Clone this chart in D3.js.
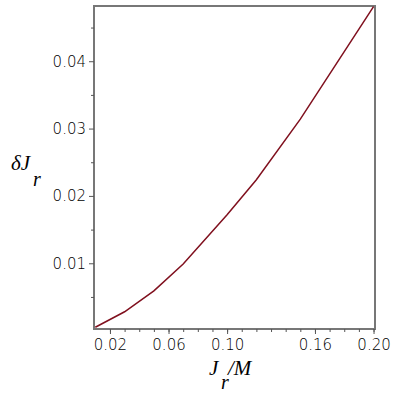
<!DOCTYPE html>
<html>
<head>
<meta charset="utf-8">
<script src="https://cdn.jsdelivr.net/npm/d3@7"></script>
<style>
  body { margin: 0; background: #fff; }
  .tick text { font-family: "DejaVu Sans", sans-serif; font-size: 15px; font-weight: 200; }
</style>
</head>
<body>
<svg id="chart" width="400" height="400"></svg>
<script>
// data
var jr = [0.01, 0.03, 0.05, 0.07, 0.10, 0.12, 0.15, 0.20];
var dj = [0.0005, 0.0028, 0.0059, 0.0099, 0.0172, 0.0224, 0.0314, 0.0481];
var xMinor = d3.range(2, 21).map(function(i) { return i / 100; });
var xLabels = [0.02, 0.06, 0.10, 0.16, 0.20];
var yMajor = [0.01, 0.02, 0.03, 0.04];
var yMinor = [0.005, 0.015, 0.025, 0.035, 0.045];

var margin = {top: 6, right: 25, bottom: 71, left: 94};

var svg = d3.select("#chart"),
  width = +svg.attr("width") - margin.left - margin.right,
  height = +svg.attr("height") - margin.top - margin.bottom;

var g = svg.append("g")
  .attr("transform", "translate(" + margin.left + "," + margin.top + ")");

var x = d3.scaleLinear().domain([0.0091, 0.2010]).range([0, width]);
var y = d3.scaleLinear().domain([0.00024, 0.0482]).range([height, 0]);

// frame
g.append("rect")
  .attr("width", width)
  .attr("height", height)
  .attr("fill", "none")
  .attr("stroke", "#777")
  .attr("stroke-width", 2);

// x axis: minor ticks then labelled ones
g.append("g")
  .attr("transform", "translate(0," + height + ")")
  .call(d3.axisBottom(x).tickValues(xMinor).tickSize(3).tickFormat(""))
  .call(function(a) { a.select(".domain").remove(); a.selectAll("line").attr("stroke", "#555"); });

g.append("g")
  .attr("transform", "translate(0," + height + ")")
  .call(d3.axisBottom(x).tickValues(xLabels).tickSize(5).tickPadding(5).tickFormat(d3.format(".2f")))
  .call(function(a) { a.select(".domain").remove(); a.selectAll("line").attr("stroke", "#555"); });

// y axis
g.append("g")
  .call(d3.axisLeft(y).tickValues(yMinor).tickSize(3).tickFormat(""))
  .call(function(a) { a.select(".domain").remove(); a.selectAll("line").attr("stroke", "#555"); });

g.append("g")
  .call(d3.axisLeft(y).tickValues(yMajor).tickSize(5).tickPadding(3).tickFormat(d3.format(".2f")))
  .call(function(a) { a.select(".domain").remove(); a.selectAll("line").attr("stroke", "#555"); });

svg.selectAll(".tick text").attr("fill", "#000");

// the curve
g.append("path")
  .datum(d3.zip(jr, dj))
  .attr("fill", "none")
  .attr("stroke", "#80101e")
  .attr("stroke-width", 1.5)
  .attr("d", d3.line()
    .x(function(d) { return x(d[0]); })
    .y(function(d) { return y(d[1]); }));

// axis titles
var serif = "'Liberation Serif', 'DejaVu Serif', serif";
var yt = svg.append("text")
  .attr("x", 11).attr("y", 170)
  .attr("font-family", serif).attr("font-size", 21).attr("fill", "#000");
yt.append("tspan").attr("font-style", "italic").text("δ");
yt.append("tspan").attr("font-style", "italic").text("J");
svg.append("text")
  .attr("x", 33).attr("y", 186)
  .attr("font-family", serif).attr("font-size", 20).attr("font-style", "italic")
  .text("r");

svg.append("text")
  .attr("x", 209).attr("y", 375)
  .attr("font-family", serif).attr("font-size", 21).attr("font-style", "italic")
  .text("J");
svg.append("text")
  .attr("x", 228).attr("y", 375)
  .attr("font-family", serif).attr("font-size", 21).attr("font-style", "italic")
  .text("/M");
svg.append("text")
  .attr("x", 221).attr("y", 389)
  .attr("font-family", serif).attr("font-size", 20).attr("font-style", "italic")
  .text("r");
</script>
</body>
</html>
